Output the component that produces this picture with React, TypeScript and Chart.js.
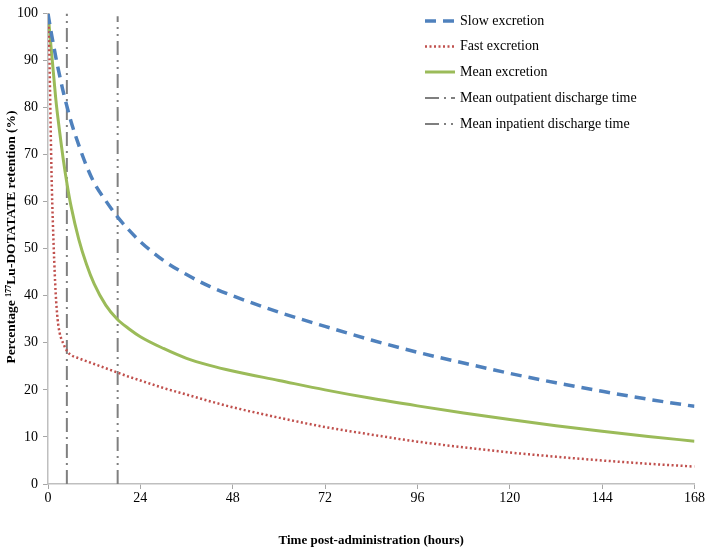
import React, { useEffect, useRef } from "react";
import { Chart, registerables } from "chart.js";

Chart.register(...registerables);

const times = [0, 0.25, 0.5, 0.75, 1, 1.5, 2, 2.5, 3, 4, 5, 6, 8, 10, 12, 15, 18, 21, 24, 30, 36, 42, 48, 60, 72, 84, 96, 108, 120, 132, 144, 156, 168];
const slowExcretion = [100, 98.7, 97.5, 96.3, 95.2, 93, 90.8, 88.8, 86.9, 83.2, 80, 77, 72, 67.6, 64, 60.2, 56.8, 54, 51.5, 47.5, 44.5, 42, 40, 36.5, 33.5, 30.6, 28, 25.7, 23.5, 21.5, 19.7, 18, 16.5];
const fastExcretion = [100, 95, 85, 73, 63, 50, 40.5, 35, 32.2, 29.8, 28.2, 27.4, 26.7, 26.1, 25.5, 24.6, 23.7, 22.8, 22, 20.4, 19, 17.6, 16.3, 14.1, 12.1, 10.5, 9, 7.8, 6.7, 5.8, 5, 4.3, 3.7];
const meanExcretion = [100, 97.8, 95.5, 93.2, 91, 86.5, 82, 78.3, 75, 68.8, 63.5, 59, 52, 46.7, 42.5, 38, 35, 33, 31.3, 28.8, 26.7, 25.2, 24, 22, 20, 18.2, 16.6, 15.1, 13.7, 12.4, 11.2, 10.1, 9.1];
const outpatientDischarge = 4.9;
const inpatientDischarge = 18.1;
const seriesLabels = ["Slow excretion", "Fast excretion", "Mean excretion", "Mean outpatient discharge time", "Mean inpatient discharge time"];
const xTicks = [0, 24, 48, 72, 96, 120, 144, 168];
const yTicks = [0, 10, 20, 30, 40, 50, 60, 70, 80, 90, 100];
const xTitle = "Time post-administration (hours)";
const yTitle = "Percentage \u00b9\u2077\u2077Lu-DOTATATE retention (%)";

const FONT = "'Liberation Serif', 'Times New Roman', serif";

const legendPlugin = {
  id: "insideLegend",
  afterDatasetsDraw(chart: any) {
    const ctx = chart.ctx;
    const x0 = 425;
    const x1 = 455;
    const tx = 460;
    const rows = [21, 46.5, 72, 98, 124];
    ctx.save();
    chart.data.datasets.forEach((ds: any, i: number) => {
      const y = rows[i];
      ctx.beginPath();
      ctx.strokeStyle = ds.borderColor;
      ctx.lineWidth = ds.borderWidth;
      ctx.setLineDash(ds.borderDash || []);
      ctx.lineCap = "butt";
      ctx.moveTo(x0, y);
      ctx.lineTo(x1, y);
      ctx.stroke();
      ctx.setLineDash([]);
      ctx.fillStyle = "#000";
      ctx.font = "14px " + FONT;
      ctx.textBaseline = "middle";
      ctx.textAlign = "left";
      ctx.fillText(ds.label, tx, y);
    });
    ctx.restore();
  },
};

const yTitlePlugin = {
  id: "yTitle",
  afterDraw(chart: any) {
    const ctx = chart.ctx;
    ctx.save();
    ctx.translate(12, 237);
    ctx.rotate(-Math.PI / 2);
    ctx.font = "bold 13.5px " + FONT;
    ctx.fillStyle = "#000";
    ctx.textAlign = "center";
    ctx.textBaseline = "middle";
    ctx.fillText(yTitle, 0, 0);
    ctx.restore();
  },
};

export default function App() {
  const canvasRef = useRef<HTMLCanvasElement | null>(null);

  useEffect(() => {
    document.body.style.margin = "0";
    document.body.style.overflow = "hidden";
    const canvas = canvasRef.current;
    if (!canvas) return;
    const toPts = (arr: number[]) => arr.map((v, i) => ({ x: times[i], y: v }));
    const chart = new Chart(canvas, {
      type: "line",
      data: {
        datasets: [
          {
            label: seriesLabels[0],
            data: toPts(slowExcretion),
            borderColor: "#4f81bd",
            borderWidth: 3.5,
            borderDash: [11, 7],
            pointRadius: 0,
            cubicInterpolationMode: "monotone",
            fill: false,
          },
          {
            label: seriesLabels[1],
            data: toPts(fastExcretion),
            borderColor: "#c0504d",
            borderWidth: 2.5,
            borderDash: [2, 2.5],
            pointRadius: 0,
            cubicInterpolationMode: "monotone",
            fill: false,
          },
          {
            label: seriesLabels[2],
            data: toPts(meanExcretion),
            borderColor: "#9bbb59",
            borderWidth: 3,
            pointRadius: 0,
            cubicInterpolationMode: "monotone",
            fill: false,
          },
          {
            label: seriesLabels[3],
            data: [
              { x: outpatientDischarge, y: 0 },
              { x: outpatientDischarge, y: 100 },
            ],
            borderColor: "#7f7f7f",
            borderWidth: 2,
            borderDash: [14, 5, 2, 5],
            pointRadius: 0,
            fill: false,
          },
          {
            label: seriesLabels[4],
            data: [
              { x: inpatientDischarge, y: 0 },
              { x: inpatientDischarge, y: 99.4 },
            ],
            borderColor: "#7f7f7f",
            borderWidth: 2,
            borderDash: [14, 5, 2, 5, 2, 5],
            pointRadius: 0,
            fill: false,
          },
        ],
      },
      options: {
        animation: false,
        responsive: false,
        maintainAspectRatio: false,
        layout: { autoPadding: false, padding: { left: 0, right: 6, top: 5, bottom: 0 } },
        plugins: {
          legend: { display: false },
          tooltip: { enabled: false },
        },
        scales: {
          x: {
            type: "linear",
            min: 0,
            max: 168,
            afterFit: (s: any) => {
              s.height = 72;
            },
            afterBuildTicks: (s: any) => {
              s.ticks = xTicks.map((v) => ({ value: v }));
            },
            ticks: { font: { family: FONT, size: 14 }, color: "#000", padding: 1, maxRotation: 0 },
            grid: { drawOnChartArea: false, tickLength: 5, color: "#a6a6a6" },
            border: { color: "#bfbfbf", width: 1.5 },
            title: {
              display: true,
              text: xTitle,
              font: { family: FONT, size: 13, weight: "bold" },
              color: "#000",
              padding: { top: 0, bottom: 8 },
            },
          },
          y: {
            type: "linear",
            min: 0,
            max: 100,
            afterFit: (s: any) => {
              s.width = 48;
            },
            afterBuildTicks: (s: any) => {
              s.ticks = yTicks.map((v) => ({ value: v }));
            },
            ticks: { font: { family: FONT, size: 14 }, color: "#000", padding: 5 },
            grid: { drawOnChartArea: false, tickLength: 5, color: "#a6a6a6" },
            border: { color: "#bfbfbf", width: 1.5 },
            title: { display: false, text: yTitle },
          },
        },
      },
      plugins: [legendPlugin, yTitlePlugin],
    } as any);
    return () => chart.destroy();
  }, []);

  return <canvas ref={canvasRef} width={706} height={556} style={{ display: "block" }} />;
}
